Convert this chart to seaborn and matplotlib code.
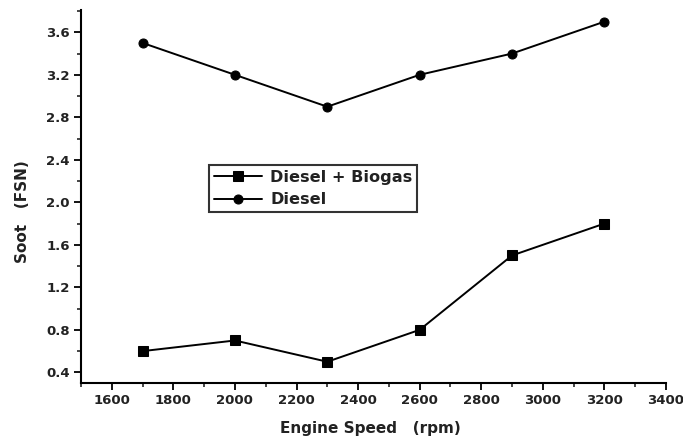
import matplotlib
matplotlib.use("Agg")
import matplotlib.pyplot as plt
import seaborn as sns
import pandas as pd
from matplotlib.ticker import MultipleLocator

speed = [1700, 2000, 2300, 2600, 2900, 3200]
diesel_biogas = [0.6, 0.7, 0.5, 0.8, 1.5, 1.8]
diesel = [3.5, 3.2, 2.9, 3.2, 3.4, 3.7]
series_names = ["Diesel + Biogas", "Diesel"]
y_ticks = [0.4, 0.8, 1.2, 1.6, 2.0, 2.4, 2.8, 3.2, 3.6]

df = pd.DataFrame({
    "speed": speed * 2,
    "soot": diesel_biogas + diesel,
    "fuel": [series_names[0]] * len(speed) + [series_names[1]] * len(speed),
})

sns.set_style("ticks")
plt.rcParams["font.family"] = ["DejaVu Sans"]

fig = plt.figure(figsize=(6.83, 4.44), dpi=100)
ax = fig.add_axes([0.1186, 0.1374, 0.8564, 0.8401])

sns.lineplot(data=df, x="speed", y="soot", hue="fuel", style="fuel",
             markers={series_names[0]: "s", series_names[1]: "o"},
             dashes=False, palette=["black", "black"], ax=ax,
             linewidth=1.4, markersize=6.5, markeredgecolor="black")

ax.set_xlim(1500, 3400)
ax.set_ylim(0.3, 3.81)
ax.xaxis.set_major_locator(MultipleLocator(200))
ax.xaxis.set_minor_locator(MultipleLocator(100))
ax.set_yticks(y_ticks)
ax.set_yticklabels([f"{v:.1f}" for v in y_ticks])
ax.yaxis.set_minor_locator(MultipleLocator(0.2))

for s in ["top", "right"]:
    ax.spines[s].set_visible(False)
for s in ["left", "bottom"]:
    ax.spines[s].set_linewidth(1.5)
    ax.spines[s].set_color("black")

ax.tick_params(axis="both", which="major", direction="out", length=5, width=1.3,
               labelsize=9.5, colors="black", pad=3)
ax.tick_params(axis="both", which="minor", direction="out", length=3, width=1.2)
for lab in ax.get_xticklabels() + ax.get_yticklabels():
    lab.set_fontweight("bold")
    lab.set_color("#222222")

ax.set_xlabel("Engine Speed   (rpm)", fontsize=11, fontweight="bold", color="#222222")
ax.set_ylabel("Soot   (FSN)", fontsize=11, fontweight="bold", color="#222222")
ax.xaxis.set_label_coords(0.495, -0.102)
ax.yaxis.set_label_coords(-0.088, 0.46)

leg = ax.legend(loc="upper left", bbox_to_anchor=(0.219, 0.584), frameon=True,
                fancybox=False, edgecolor="black",
                prop={"size": 11.6, "weight": "bold"},
                handlelength=3.0, borderpad=0.3, labelspacing=0.45,
                handletextpad=0.5, borderaxespad=0)
leg.get_frame().set_linewidth(1.5)
for t in leg.get_texts():
    t.set_color("#222222")

fig.savefig("out.png", dpi=100)
